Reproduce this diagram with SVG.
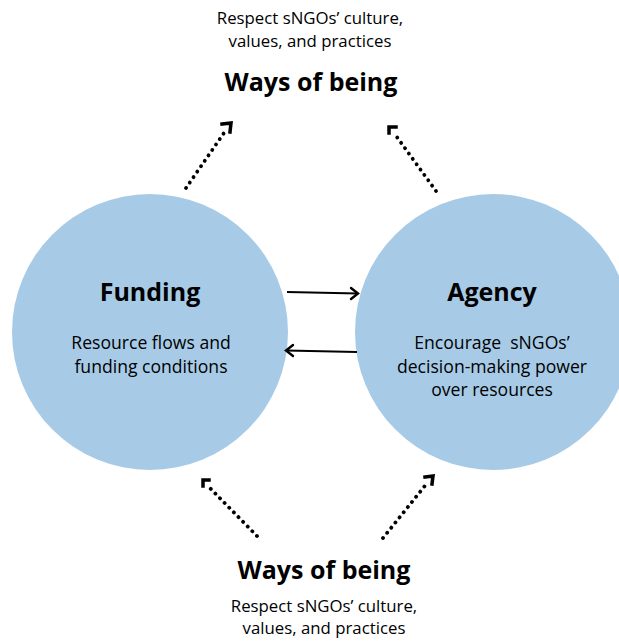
<svg xmlns="http://www.w3.org/2000/svg" width="619" height="641" viewBox="0 0 619 641">
  <style>
    .circle { fill: #a7cbe7; }
    .title { font-family: "Open Sans", "Noto Sans", sans-serif; font-weight: 700; font-size: 25px; fill: #000; text-anchor: middle; }
    .body { font-family: "Open Sans", "Noto Sans", sans-serif; font-size: 17.6px; fill: #000; text-anchor: middle; }
    .note { font-family: "Open Sans", "Noto Sans", sans-serif; font-size: 16.8px; fill: #000; text-anchor: middle; }
    .dotted { stroke: #000; stroke-width: 3.8; stroke-dasharray: 0.1 6.5; stroke-linecap: round; fill: none; }
    .solid { stroke: #000; stroke-width: 2.2; fill: none; }
    .head { stroke: #000; stroke-width: 3.5; fill: none; stroke-linecap: square; stroke-linejoin: miter; }
    .headthin { stroke: #000; stroke-width: 2.4; fill: none; stroke-linecap: round; stroke-linejoin: miter; }
  </style>

  <g id="funding">
    <circle class="circle" cx="150" cy="332" r="138"/>
    <text class="title" x="150" y="301">Funding</text>
    <text class="body" x="151" y="349">Resource flows and</text>
    <text class="body" x="151" y="373">funding conditions</text>
  </g>

  <g id="agency">
    <circle class="circle" cx="493" cy="332" r="138"/>
    <text class="title" x="492" y="301">Agency</text>
    <text class="body" x="492" y="349">Encourage&#160; sNGOs’</text>
    <text class="body" x="492" y="373">decision-making power</text>
    <text class="body" x="492" y="396">over resources</text>
  </g>

  <g id="ways-top">
    <text class="note" x="310" y="24">Respect sNGOs’ culture,</text>
    <text class="note" x="310" y="47">values, and practices</text>
    <text class="title" x="311" y="91">Ways of being</text>
  </g>

  <g id="ways-bottom">
    <text class="title" x="324" y="579">Ways of being</text>
    <text class="note" x="324" y="612">Respect sNGOs’ culture,</text>
    <text class="note" x="324" y="634">values, and practices</text>
  </g>

  <g id="connectors">
    <!-- dotted links towards "Ways of being" -->
    <line class="dotted" x1="186" y1="188" x2="226" y2="130"/>
    <polyline class="head" points="222,124 231,123 230,132"/>
    <line class="dotted" x1="436" y1="191" x2="394" y2="133"/>
    <polyline class="head" points="389,133 389,127 396,127"/>
    <line class="dotted" x1="257" y1="536" x2="207" y2="485"/>
    <polyline class="head" points="203,486 203,480 209,480"/>
    <line class="dotted" x1="383" y1="538" x2="428" y2="482"/>
    <polyline class="head" points="425,477 433,476 432,484"/>

    <!-- solid links between the circles -->
    <line class="solid" x1="287" y1="292" x2="358" y2="293.5"/>
    <polyline class="headthin" points="351,288 358,293.5 351,299"/>
    <line class="solid" x1="357" y1="352" x2="286" y2="350.5"/>
    <polyline class="headthin" points="293,345 286,350.5 293,356"/>
  </g>
</svg>
